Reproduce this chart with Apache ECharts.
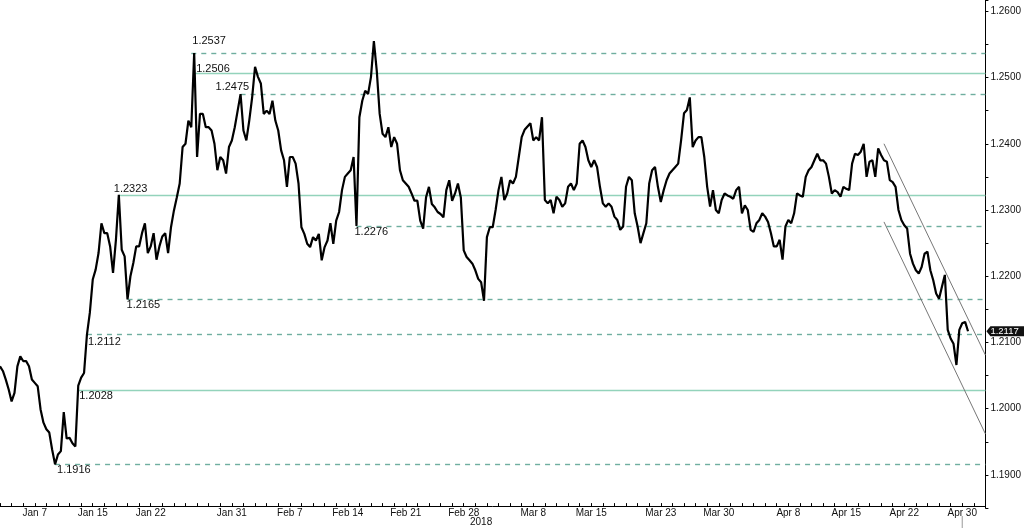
<!DOCTYPE html>
<html>
<head>
<meta charset="utf-8">
<script src="https://cdn.jsdelivr.net/npm/echarts@6/dist/echarts.min.js"></script>
<style>
html,body{margin:0;padding:0;background:#fff;}
#chart{width:1024px;height:528px;}
</style>
</head>
<body>
<div id="chart"></div>
<script>
// ---------- DATA ----------
// EUR/USD, four samples per trading day, starting Wed 3 Jan 2018
const eurusd = [
1.2064,1.2057,1.2044,1.2029,1.2011,1.2024,1.2064,1.2079,1.2072,1.2072,
1.2064,1.2044,1.2039,1.2034,1.1999,1.1979,1.1969,1.1964,1.1938,1.1916,
1.1931,1.1936,1.1995,1.1955,1.1956,1.1948,1.1943,1.2035,1.2047,1.2054,
1.2112,1.2145,1.2195,1.2210,1.2235,1.2280,1.2265,1.2265,1.2245,1.2205,
1.2255,1.2323,1.2240,1.2230,1.2165,1.2200,1.2220,1.2245,1.2245,1.2265,
1.2280,1.2235,1.2245,1.2265,1.2225,1.2245,1.2260,1.2265,1.2235,1.2274,
1.2299,1.2319,1.2340,1.2395,1.2400,1.2435,1.2425,1.2537,1.2380,1.2445,
1.2445,1.2425,1.2425,1.2420,1.2400,1.2360,1.2380,1.2375,1.2355,1.2395,
1.2405,1.2425,1.2450,1.2475,1.2420,1.2405,1.2435,1.2470,1.2516,1.2501,
1.2491,1.2445,1.2450,1.2445,1.2465,1.2435,1.2420,1.2390,1.2375,1.2335,
1.2380,1.2380,1.2370,1.2340,1.2274,1.2264,1.2249,1.2244,1.2259,1.2254,
1.2264,1.2224,1.2244,1.2254,1.2280,1.2249,1.2284,1.2297,1.2330,1.2350,
1.2355,1.2360,1.2380,1.2276,1.2440,1.2465,1.2480,1.2475,1.2501,1.2555,
1.2510,1.2445,1.2415,1.2410,1.2425,1.2395,1.2410,1.2400,1.2360,1.2345,
1.2340,1.2335,1.2325,1.2314,1.2314,1.2284,1.2272,1.2319,1.2335,1.2309,
1.2304,1.2297,1.2294,1.2289,1.2330,1.2345,1.2314,1.2325,1.2340,1.2319,
1.2239,1.2229,1.2224,1.2219,1.2209,1.2196,1.2191,1.2163,1.2259,1.2274,
1.2274,1.2300,1.2330,1.2350,1.2315,1.2325,1.2345,1.2340,1.2350,1.2380,
1.2410,1.2421,1.2426,1.2431,1.2405,1.2410,1.2405,1.2440,1.2315,1.2310,
1.2315,1.2295,1.2320,1.2315,1.2305,1.2310,1.2335,1.2340,1.2330,1.2340,
1.2400,1.2405,1.2395,1.2375,1.2365,1.2375,1.2365,1.2335,1.2310,1.2305,
1.2310,1.2305,1.2290,1.2285,1.2270,1.2275,1.2335,1.2350,1.2345,1.2295,
1.2275,1.2250,1.2265,1.2280,1.2340,1.2360,1.2365,1.2335,1.2312,1.2330,
1.2345,1.2355,1.2360,1.2365,1.2370,1.2405,1.2446,1.2451,1.2470,1.2395,
1.2405,1.2410,1.2410,1.2380,1.2335,1.2305,1.2330,1.2300,1.2295,1.2315,
1.2325,1.2322,1.2320,1.2317,1.2330,1.2335,1.2295,1.2307,1.2300,1.2270,
1.2267,1.2280,1.2285,1.2295,1.2290,1.2282,1.2265,1.2245,1.2245,1.2255,
1.2225,1.2275,1.2285,1.2280,1.2295,1.2325,1.2322,1.2320,1.2350,1.2360,
1.2365,1.2375,1.2385,1.2375,1.2375,1.2370,1.2350,1.2325,1.2330,1.2327,
1.2320,1.2335,1.2332,1.2330,1.2370,1.2385,1.2383,1.2388,1.2400,1.2350,
1.2373,1.2375,1.2350,1.2393,1.2383,1.2375,1.2373,1.2345,1.2342,1.2335,
1.2300,1.2285,1.2277,1.2272,1.2234,1.2219,1.2209,1.2204,1.2214,1.2234,
1.2237,1.2209,1.2194,1.2174,1.2166,1.2184,1.2202,1.2119,1.2106,1.2098,
1.2066,1.2119,1.2129,1.2131,1.2117
];

// horizontal support / resistance levels
const levelValues = [1.2537, 1.2506, 1.2475, 1.2323, 1.2276, 1.2165, 1.2112, 1.2028, 1.1916];
const levelStartSlots = [66, 67, 83, 41, 123, 44, 30, 27, 19];
const levelDashed = [true, false, true, false, true, true, true, false, true];

// downward channel (start slot/price, end slot/price)
const channelUpper = [[305, 1.2400], [340, 1.2081]];
const channelLower = [[305, 1.2282], [340, 1.1962]];

// x-axis tick labels (trading-day start -> text)
const tickDates = ['2018-01-08','2018-01-15','2018-01-22','2018-01-31','2018-02-07','2018-02-14','2018-02-21','2018-02-28','2018-03-08','2018-03-15','2018-03-23','2018-03-30','2018-04-09','2018-04-16','2018-04-23','2018-04-30'];
const tickTexts = ['Jan 7','Jan 15','Jan 22','Jan 31','Feb 7','Feb 14','Feb 21','Feb 28','Mar 8','Mar 15','Mar 23','Mar 30','Apr 8','Apr 15','Apr 22','Apr 30'];
const yearText = '2018';
const lastPrice = 1.2117;

// ---------- CATEGORIES (trading time, weekends skipped) ----------
const tradingDays = [];
{
  const d = new Date(Date.UTC(2018, 0, 3));
  while (tradingDays.length < 86) {
    const wd = d.getUTCDay();
    if (wd !== 0 && wd !== 6) tradingDays.push(d.toISOString().slice(0, 10));
    d.setUTCDate(d.getUTCDate() + 1);
  }
}
const categories = [];
for (let i = 0; i < 85; i++) for (let h = 0; h < 4; h++) categories.push(tradingDays[i] + ' ' + String(h * 6).padStart(2, '0') + ':00');
categories.push(tradingDays[85] + ' 00:00');

const tickMap = {};
tickDates.forEach((d, i) => { tickMap[d] = tickTexts[i]; });

// ---------- STYLE ----------
const FONT = 'Liberation Sans';
const solidColor = '#93d3bb';
const dashColor = '#6fae9f';
// label placement per level: [position, distanceX, distanceY]
const levelLabelPlace = [
  ['insideStartTop', 1, 7],
  ['insideStartTop', 2, -1],
  ['insideStartTop', -25, 2],
  ['insideStartTop', -5, 0],
  ['insideStartBottom', -2, 1],
  ['insideStartBottom', -1, 0],
  ['insideStartBottom', 1, 2],
  ['insideStartBottom', 1, 0],
  ['insideStartBottom', 2, 0]
];

const levelLines = levelValues.map((v, i) => [
  {
    coord: [categories[levelStartSlots[i]], v],
    lineStyle: { color: levelDashed[i] ? dashColor : solidColor, width: 1.4, type: levelDashed[i] ? [5, 5] : 'solid' },
    label: {
      show: true,
      formatter: v.toFixed(4),
      position: levelLabelPlace[i][0],
      distance: [levelLabelPlace[i][1], levelLabelPlace[i][2]],
      color: '#111', fontFamily: FONT, fontSize: 11
    }
  },
  { coord: [categories[categories.length - 1], v] }
]);
const chanStyle = { color: '#777', width: 1, type: 'solid' };
const channelLines = [channelUpper, channelLower].map(c => [
  { coord: [categories[c[0][0]], c[0][1]], lineStyle: chanStyle, label: { show: false } },
  { coord: [categories[c[1][0]], c[1][1]] }
]);

const chart = echarts.init(document.getElementById('chart'), null, { renderer: 'canvas' });
const option = {
  animation: false,
  backgroundColor: '#fff',
  grid: { left: 0, right: 36, top: 0, bottom: 19.9, containLabel: false },
  xAxis: {
    type: 'category',
    data: categories,
    boundaryGap: false,
    offset: -2,
    axisLine: { show: true, lineStyle: { color: '#000', width: 1 } },
    axisTick: { show: true, inside: true, length: 3, lineStyle: { color: '#000' }, interval: (i) => i % 4 === 0 },
    axisLabel: {
      interval: (i, val) => val.slice(11) === '00:00' && !!tickMap[val.slice(0, 10)],
      formatter: (val) => tickMap[val.slice(0, 10)] || '',
      color: '#111', fontFamily: FONT, fontSize: 10, margin: 2
    },
    splitLine: { show: false }
  },
  yAxis: {
    type: 'value',
    position: 'right',
    min: 1.185,
    max: 1.2617,
    interval: 0.005,
    axisLine: { show: true, lineStyle: { color: '#000', width: 1 } },
    axisTick: { show: true, length: 3, lineStyle: { color: '#000' } },
    axisLabel: {
      formatter: (v) => Math.abs(v * 100 - Math.round(v * 100)) < 1e-6 ? v.toFixed(4) : '',
      color: '#111', fontFamily: FONT, fontSize: 10, margin: 5
    },
    splitLine: { show: false }
  },
  series: [{
    type: 'line',
    data: eurusd,
    showSymbol: false,
    symbol: 'none',
    lineStyle: { color: '#000', width: 2.2 },
    z: 5,
    markLine: {
      silent: true,
      symbol: ['none', 'none'],
      animation: false,
      data: levelLines.concat(channelLines),
      z: 2
    }
  }]
};
chart.setOption(option);

// current-price tag, year caption and cursor tick placed through the chart's scales
const yLast = chart.convertToPixel({ yAxisIndex: 0 }, lastPrice);
const xAxisEnd = chart.convertToPixel({ xAxisIndex: 0 }, categories[categories.length - 1]);
const xYear = chart.convertToPixel({ xAxisIndex: 0 }, categories[166]);
const xCursor = chart.convertToPixel({ xAxisIndex: 0 }, categories[332]);
chart.setOption({
  graphic: [
    {
      type: 'polygon',
      shape: { points: [[xAxisEnd + 1, yLast], [xAxisEnd + 5, yLast - 5], [1024, yLast - 5], [1024, yLast + 5], [xAxisEnd + 5, yLast + 5]] },
      style: { fill: '#111' }, z: 10
    },
    {
      type: 'text', x: xAxisEnd + 5, y: yLast,
      style: { text: lastPrice.toFixed(4), fill: '#fff', font: '9.5px "' + FONT + '"', textVerticalAlign: 'middle' }, z: 11
    },
    {
      type: 'text', x: xYear, y: 522,
      style: { text: yearText, fill: '#111', font: '10px "' + FONT + '"', textAlign: 'center', textVerticalAlign: 'middle' }, z: 11
    },
    {
      type: 'line', shape: { x1: xCursor, y1: 516, x2: xCursor, y2: 528 },
      style: { stroke: '#999', lineWidth: 1 }, z: 11
    }
  ]
});
</script>
</body>
</html>
